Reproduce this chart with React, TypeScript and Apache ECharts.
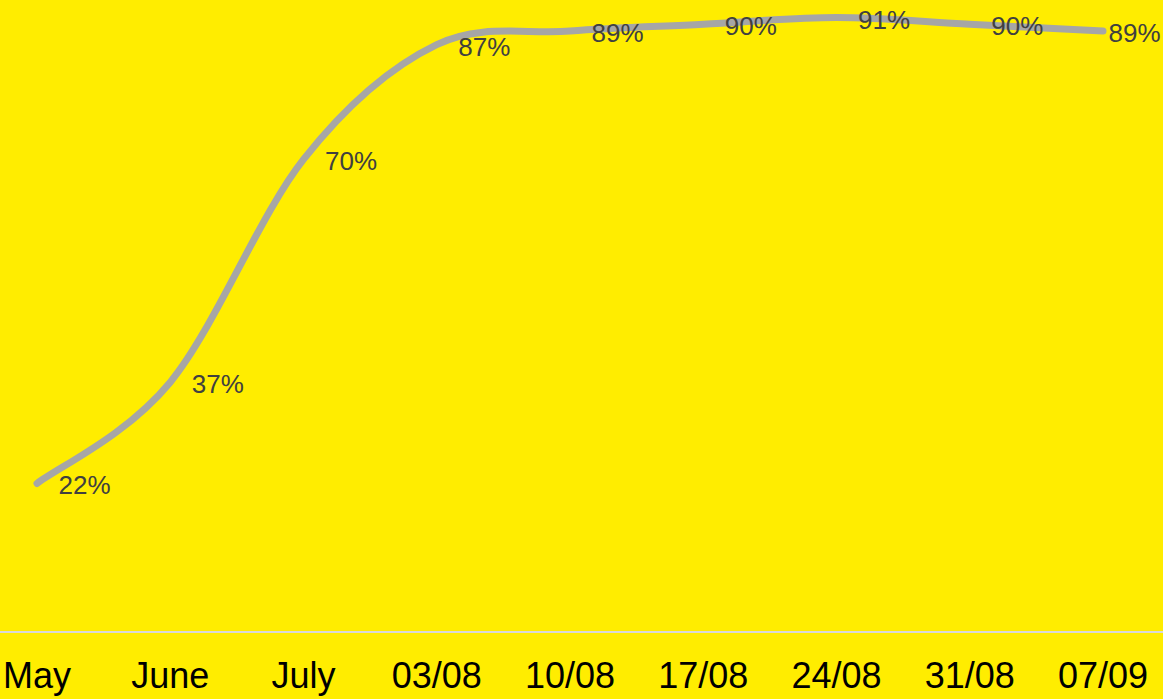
import React, { useEffect, useRef } from "react";
import * as echarts from "echarts";

const categories = ["May", "June", "July", "03/08", "10/08", "17/08", "24/08", "31/08", "07/09"];
const values = [22, 37, 70, 87, 89, 90, 91, 90, 89];

export default function App() {
  const ref = useRef<HTMLDivElement>(null);
  useEffect(() => {
    if (!ref.current) return;
    const chart = echarts.init(ref.current, undefined, { renderer: "svg" });
    const renderCurve = (params: any, api: any) => {
      if (params.dataIndex !== 0) return null;
      const pts = values.map((v, i) => api.coord([i, v]));
      const n = pts.length;
      const k = 1 / 6;
      let d = `M${pts[0][0]},${pts[0][1]}`;
      for (let i = 0; i < n - 1; i++) {
        const p0 = pts[Math.max(i - 1, 0)];
        const p1 = pts[i];
        const p2 = pts[i + 1];
        const p3 = pts[Math.min(i + 2, n - 1)];
        const c1x = p1[0] + (p2[0] - p0[0]) * k;
        const c1y = p1[1] + (p2[1] - p0[1]) * k;
        const c2x = p2[0] - (p3[0] - p1[0]) * k;
        const c2y = p2[1] - (p3[1] - p1[1]) * k;
        d += ` C${c1x},${c1y} ${c2x},${c2y} ${p2[0]},${p2[1]}`;
      }
      return {
        type: "path",
        shape: { pathData: d },
        style: { stroke: "#A6A6A6", lineWidth: 7, fill: "none", lineCap: "round", lineJoin: "round" },
      };
    };
    chart.setOption({
      animation: false,
      backgroundColor: "#FFED00",
      grid: { left: 37, right: 60, top: 0, bottom: 67 },
      graphic: [
        {
          type: "line",
          shape: { x1: 0, y1: 632, x2: 1163, y2: 632 },
          style: { stroke: "#D9D9D9", lineWidth: 2 },
          z: 0,
        },
      ],
      xAxis: {
        type: "category",
        data: categories,
        boundaryGap: false,
        axisTick: { show: false },
        axisLine: { show: false },
        axisLabel: {
          color: "#000000",
          fontSize: 36,
          fontFamily: "'Liberation Sans', Arial, sans-serif",
          margin: 25,
          interval: 0,
        },
        splitLine: { show: false },
      },
      yAxis: {
        type: "value",
        min: 0,
        max: 93.6,
        show: false,
        splitLine: { show: false },
      },
      series: [
        {
          type: "custom",
          data: values.map((v, i) => [i, v]),
          renderItem: renderCurve,
          clip: false,
          z: 2,
        },
        {
          type: "line",
          data: values.map((v, i) =>
            i === values.length - 1 ? { value: v, label: { offset: [-16, 2] } } : v
          ),
          symbol: "circle",
          symbolSize: 1,
          showSymbol: true,
          itemStyle: { color: "rgba(0,0,0,0)" },
          lineStyle: { width: 0, color: "rgba(0,0,0,0)" },
          z: 3,
          label: {
            show: true,
            position: "right",
            distance: 21,
            offset: [0, 2],
            color: "#404040",
            fontSize: 26,
            fontFamily: "'Liberation Sans', Arial, sans-serif",
            formatter: (p: any) => p.value + "%",
          },
        },
      ],
    });
    return () => chart.dispose();
  }, []);
  return (
    <div
      ref={ref}
      style={{ position: "absolute", left: 0, top: 0, width: 1163, height: 699 }}
    />
  );
}
